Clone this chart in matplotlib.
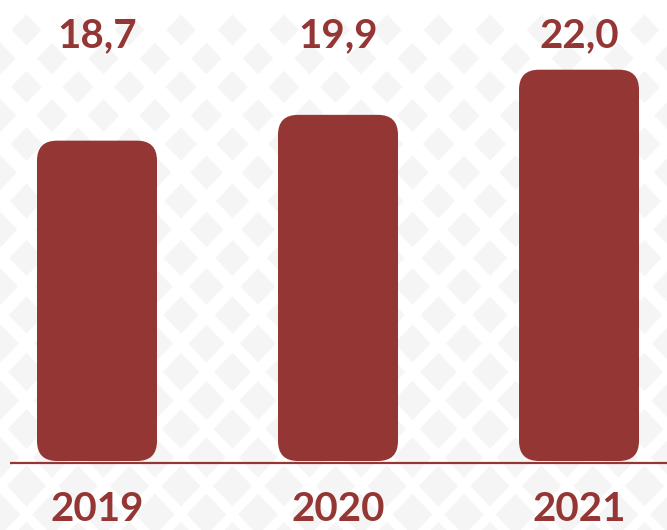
import numpy as np
import matplotlib
matplotlib.use("Agg")
import matplotlib.pyplot as plt
from matplotlib.patches import FancyBboxPatch, Polygon

years = ["2019", "2020", "2021"]
values = [18.7, 19.9, 22.0]
labels = ["18,7", "19,9", "22,0"]
y_start = 3.8  # bars in the original don't start at zero

red = "#943634"
W, H = 667, 530

fig = plt.figure(figsize=(W / 100, H / 100), dpi=100)
fig.patch.set_facecolor("white")

# background diamond pattern, in pixel coords
bg = fig.add_axes([0, 0, 1, 1])
bg.set_xlim(0, W)
bg.set_ylim(H, 0)
bg.axis("off")
row = 0
y = 30
while y < H + 40:
    x0 = 27 if row % 2 == 0 else 1
    x = x0 - 52
    while x < W + 40:
        s = 14.5 + 5.5 * (y / H)
        bg.add_patch(Polygon([(x, y - s * 1.05), (x + s, y), (x, y + s * 1.05), (x - s, y)],
                             closed=True, facecolor="#f5f5f5", edgecolor="none"))
        x += 51.5
    y += 28.5
    row += 1

ax = fig.add_axes([0, 0, 1, 1])
ax.patch.set_alpha(0)
ax.axis("off")
k = 21.5  # px per unit
base = 69
ax.set_xlim(-97 / 241, (W - 97) / 241)
ax.set_ylim(y_start - base / k, y_start + (H - base) / k)

bw = 120 / 241
r = 20 / 241
asp = (1 / k) / (1 / 241)
for i, v in enumerate(values):
    ax.add_patch(FancyBboxPatch((i - bw / 2, y_start), bw, v - y_start,
                                boxstyle=f"round,pad=0,rounding_size={r}",
                                mutation_aspect=asp, facecolor=red, edgecolor="none"))
    ax.text(i, 1 - 47 / H, labels[i], transform=ax.get_xaxis_transform(),
            ha="center", va="baseline", fontsize=29, fontweight="bold",
            family="Lato", color=red)
    ax.text(i, 2 / H, years[i], transform=ax.get_xaxis_transform(),
            ha="center", va="bottom", fontsize=29, fontweight="bold",
            family="Lato", color=red)

ax.plot([10 / 241 - 97 / 241, (W - 97) / 241], [y_start - 2 / k, y_start - 2 / k],
        color=red, lw=1.6, solid_capstyle="butt")

fig.savefig("out.png", dpi=100)
